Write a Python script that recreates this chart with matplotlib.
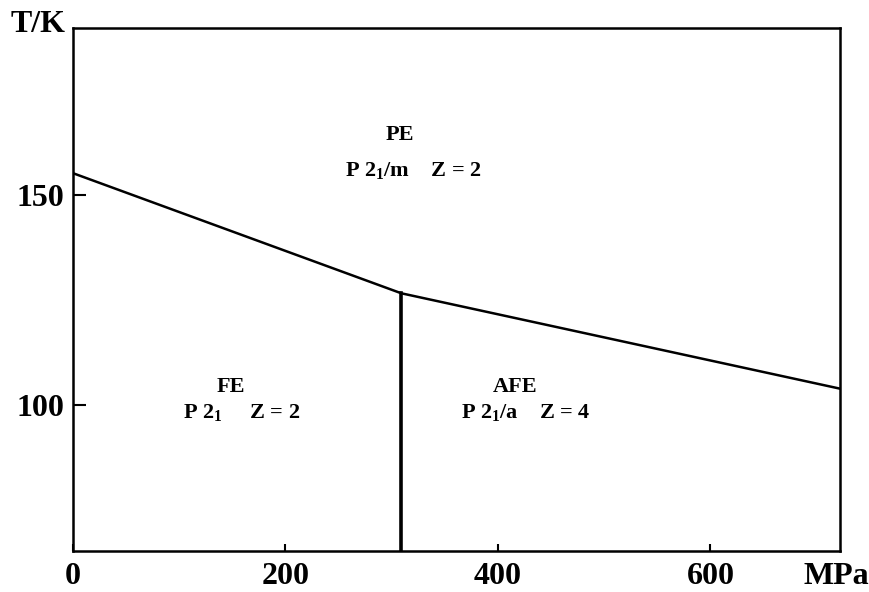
import matplotlib
matplotlib.use("Agg")
import matplotlib.pyplot as plt

# Phase diagram T vs p
p_upper = [0, 309, 722]          # MPa, PE boundary
T_upper = [155.3, 126.6, 103.8]  # K
p_fe_afe = [309, 309]            # FE / AFE boundary
T_fe_afe = [126.6, 65]

x_ticks = [0, 200, 400, 600]
y_ticks = [100, 150]

phases = ["PE", "FE", "AFE"]
phase_p = [308, 149, 416]
phase_T = [164.4, 104.3, 104.3]
groups = [r"P 2$_{1}$/m    Z = 2", r"P 2$_{1}$     Z = 2", r"P 2$_{1}$/a    Z = 4"]
group_p = [320, 159, 426]
group_T = [156.0, 98.1, 98.1]

plt.rcParams['font.family'] = 'Liberation Serif'
plt.rcParams['font.weight'] = 'bold'
plt.rcParams['mathtext.default'] = 'regular'

fig = plt.figure(figsize=(8.7, 5.92), dpi=100)
ax = fig.add_axes([73/870, 1 - 551/592, (840-73)/870, (551-28)/592])

ax.plot(p_upper, T_upper, color='black', lw=1.8)
ax.plot(p_fe_afe, T_fe_afe, color='black', lw=2.6)

ax.set_xlim(0, 722)
ax.set_ylim(65, 190)
ax.set_xticks(x_ticks)
ax.set_yticks(y_ticks)
ax.tick_params(direction='in', width=1.5, labelsize=23)
ax.tick_params(axis='y', length=9, pad=6)
ax.tick_params(axis='x', length=5, pad=8)
for s in ax.spines.values():
    s.set_linewidth(1.8)

for name, x, y in zip(phases, phase_p, phase_T):
    ax.text(x, y, name, ha='center', va='center', fontsize=16, fontweight='bold')
for name, x, y in zip(groups, group_p, group_T):
    ax.text(x, y, name, ha='center', va='center', fontsize=16, fontweight='bold')

fig.text(38/870, 1 - 24/592, "T/K", ha='center', va='center', fontsize=23, fontweight='bold')
fig.text(836/870, 1 - 577/592, "MPa", ha='center', va='center', fontsize=23, fontweight='bold')

fig.savefig("out.png", dpi=100)
